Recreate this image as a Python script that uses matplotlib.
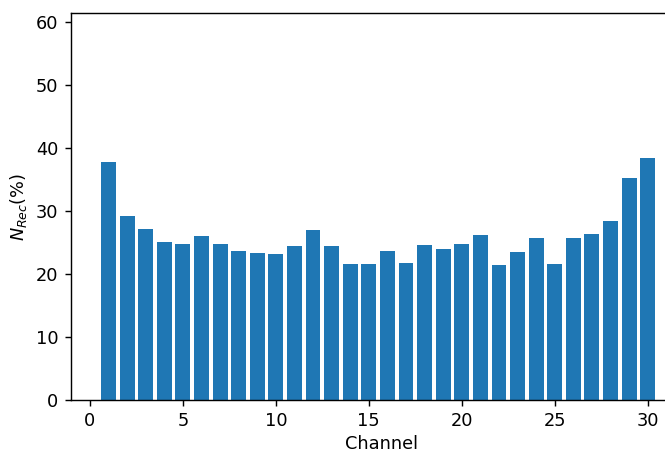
import numpy as np
import matplotlib
matplotlib.use("Agg")
import matplotlib.pyplot as plt

channels = np.arange(1, 31)
n_rec = [37.75, 29.2, 27.1, 25.05, 24.7, 26.0, 24.7, 23.6, 23.3, 23.15,
         24.4, 26.95, 24.4, 21.55, 21.55, 23.6, 21.7, 24.55, 23.95, 24.75,
         26.15, 21.4, 23.45, 25.7, 21.55, 25.7, 26.3, 28.4, 35.2, 38.4]

DPI = 128
W, H = 665, 452
fig = plt.figure(figsize=(W / DPI, H / DPI), dpi=DPI)
# axes runs past the right edge, like the cropped original
left, bottom, width, top = 71, 52, 620, 13
ax = fig.add_axes([left / W, bottom / H, width / W, (H - top - bottom) / H])
ax.bar(channels, n_rec, color='#1f77b4', width=0.8)
ax.set_xlim(-1.02, -1.02 + width / 18.59)
ax.set_ylim(0, 61.4)
ax.set_yticks([0, 10, 20, 30, 40, 50, 60])
ax.set_xticks([0, 5, 10, 15, 20, 25, 30])
ax.set_xlabel('Channel', labelpad=2.6)
ax.set_ylabel(r'$N_{Rec}$(%)')

fig.savefig('out.png', dpi=DPI)
